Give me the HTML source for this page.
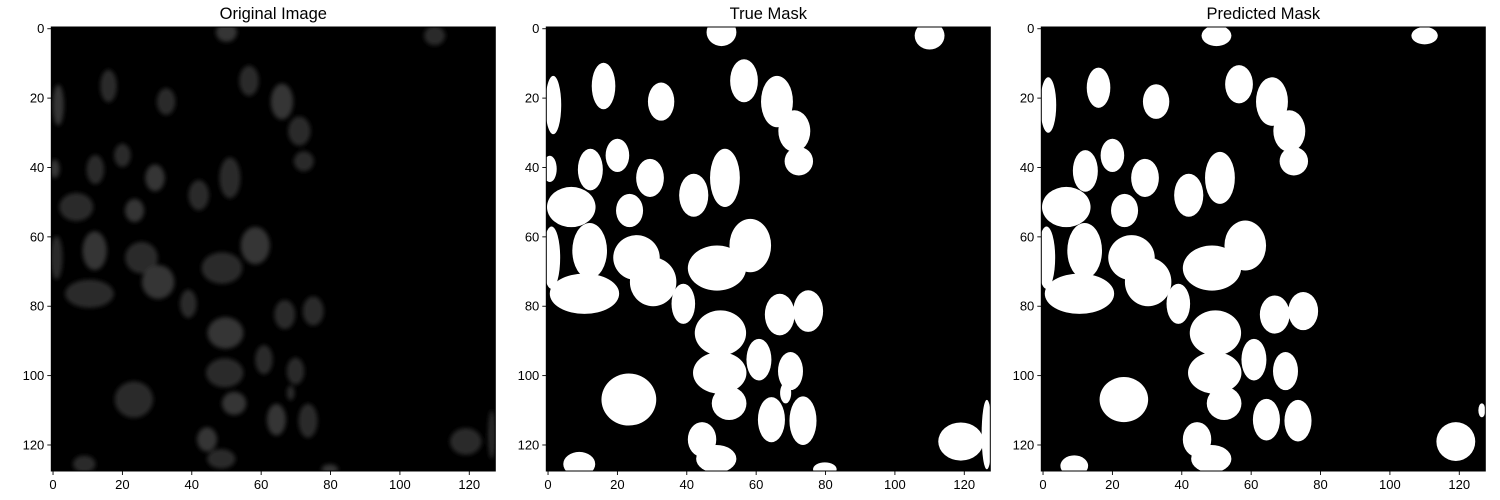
<!DOCTYPE html>
<html><head><meta charset="utf-8"><style>
body{margin:0;background:#fff;}
svg{display:block;font-family:"Liberation Sans","DejaVu Sans",sans-serif;}
</style></head><body>
<svg id="fig" width="1500" height="500" viewBox="0 0 1500 500">
<defs><filter id="blur" x="-50%" y="-50%" width="200%" height="200%"><feGaussianBlur stdDeviation="2.2"/></filter>
<clipPath id="c0"><rect x="51.3" y="27" width="444" height="444"/></clipPath>
<clipPath id="c1"><rect x="546.3" y="27" width="444" height="444"/></clipPath>
<clipPath id="c2"><rect x="1041.3" y="27" width="444" height="444"/></clipPath></defs>
</svg>
<script>
// nuclei: [cx, cy, rx, ry] in image pixel coordinates
const trueCx=[50,110,16,1.5,32.6,56.5,66,71,72.3,0.5,12.2,20,29.4,42,51,23.5,6.7,1,12,10.5,25.5,30.3,39,48.7,58.3,66.8,75,49.7,60.8,49.5,52.2,69.9,68.5,64.4,73.5,23.3,44.4,48.5,9,79.8,119,126.5];
const trueCy=[1,2,16.5,22,21,15,21,29.5,38.2,40.4,40.6,36.5,43,48,43,52.4,51.4,66,64,76.4,66,73,79.3,69,62.5,82.4,81.4,87.7,95.4,99.2,108,98.7,105,112.7,113,106.9,118.4,124,125.5,127,119,117];
const trueRx=[4.3,4.3,3.4,2.3,3.8,4,4.6,4.6,4.1,2,3.6,3.4,4,4.2,4.3,3.9,7,2.5,5,10,6.7,6.7,3.4,8.4,6,4.3,4.3,7.4,3.6,7.7,5,3.6,1.6,3.9,3.9,7.9,4.1,5.8,4.6,3.4,6.5,1.5];
const trueRy=[4,4,6.7,8.4,5.5,6.2,7.4,6,4.1,3.8,6,4.8,5.5,6.2,8.4,4.8,5.8,9,8,5.8,6.5,7,5.8,6.5,7.7,6,6,6.5,6,6,4.8,5.5,3,6.5,7,7.5,5,4,3.5,2,5.5,10];
const predCx=[50,110,16,1.5,32.6,56.5,66,71,72.3,12.2,20,29.4,42,51,23.5,6.7,1,12,10.5,25.5,30.3,39,48.7,58.3,66.8,75,49.7,60.8,49.5,52.2,69.9,64.4,73.5,23.3,44.4,48.5,9,119,126.5];
const predCy=[2,2,17,22,21,16,21,29.5,38.2,41,36.5,43,48,43,52.4,51.4,66,64,76.4,66,73,79.3,69,62.5,82.4,81.4,87.7,95.4,99.2,108,98.7,112.7,113,106.9,118.4,124,126,119,110];
const predRx=[4.3,3.8,3.4,2.3,3.8,4,4.6,4.6,4.1,3.6,3.4,4,4.2,4.3,3.9,7,2.5,5,10,6.7,6.7,3.4,8.4,6,4.3,4.3,7.4,3.6,7.7,5,3.6,3.9,3.9,7,4.1,5.8,4,5.6,1];
const predRy=[3,2.5,5.8,8,5,5.5,7,6,4.1,6,4.8,5.5,6.2,7.5,4.8,5.8,9,8,5.8,6.5,7,5.8,6.5,7.2,5.5,5.5,6.5,6,6,4.8,5.5,6,6,6.5,5,4,3,5.6,2];
const ticks=[0,20,40,60,80,100,120];
const titles=["Original Image","True Mask","Predicted Mask"];
const panelX=[51.3,546.3,1041.3];
const PY=27, SZ=444, S=SZ/128;
const NS="http://www.w3.org/2000/svg";
const svg=document.getElementById('fig');
function mk(tag,attrs,parent){const e=document.createElementNS(NS,tag);for(const k in attrs)e.setAttribute(k,attrs[k]);(parent||svg).appendChild(e);return e;}
function xs(p,d){return panelX[p]+(d+0.5)*S;}
function ys(d){return PY+(d+0.5)*S;}
const sets=[[trueCx,trueCy,trueRx,trueRy],[trueCx,trueCy,trueRx,trueRy],[predCx,predCy,predRx,predRy]];
for(let p=0;p<3;p++){
  const g=mk('g',{'clip-path':'url(#c'+p+')'});
  
  
  const bg=mk('rect',{x:panelX[p],y:PY,width:SZ,height:SZ,fill:'#000'},g);
  
  
  const [cx,cy,rx,ry]=sets[p];
  const sub=mk('g',p===0?{filter:'url(#blur)'}:{},g);
  for(let i=0;i<cx.length;i++){
    const e=mk('ellipse',{cx:xs(p,cx[i]),cy:ys(cy[i]),rx:(p===0?0.7:1)*rx[i]*S,ry:(p===0?0.7:1)*ry[i]*S,fill:p===0?(i%3===0?'#363636':'#2c2c2c'):'#fff'},sub);
    
    
  }
  const fr=mk('rect',{x:panelX[p],y:PY,width:SZ,height:SZ,fill:'none',stroke:'#000','stroke-width':1});
  
  
  const t=mk('text',{x:panelX[p]+SZ/2,y:19,'text-anchor':'middle','font-size':16.5,fill:'#000'});
  t.textContent=titles[p];
  
  
  for(const v of ticks){
    const X=xs(p,v);
    mk('line',{x1:X,x2:X,y1:PY+SZ,y2:PY+SZ+4,stroke:'#000','stroke-width':0.9});
    const lx=mk('text',{x:X,y:PY+SZ+18,'text-anchor':'middle','font-size':13,fill:'#000'});
    lx.textContent=v;
    
    
    const Y=ys(v);
    mk('line',{x1:panelX[p]-4,x2:panelX[p],y1:Y,y2:Y,stroke:'#000','stroke-width':0.9});
    const ly=mk('text',{x:panelX[p]-7,y:Y+4.5,'text-anchor':'end','font-size':13,fill:'#000'});
    ly.textContent=v;
    
    
  }
}
</script>
</body></html>
